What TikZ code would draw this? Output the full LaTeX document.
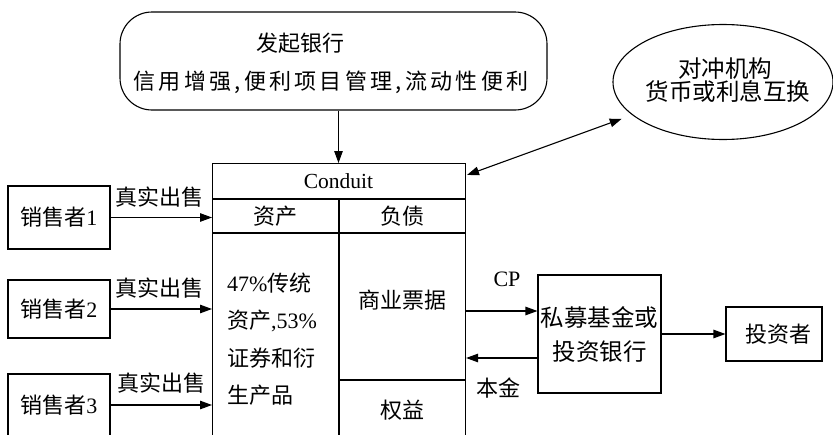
\documentclass[tikz,border=0pt]{standalone}
\usepackage{fontspec}
\setmainfont{Liberation Serif}
\newfontfamily\cjk{Noto Sans CJK SC}
\newfontfamily\cjkw[LetterSpace=15]{Noto Sans CJK SC}
\usetikzlibrary{arrows.meta,shapes.geometric,calc}
\tikzset{
  base/.style={font=\fontsize{22}{25}\selectfont, inner sep=0pt},
  box/.style={base, draw, line width=1.1pt},
  arr/.style={line width=1.1pt, -{Triangle[length=12pt,width=8.5pt]}},
  arrtwo/.style={line width=1.1pt, {Triangle[length=12pt,width=8.5pt]}-{Triangle[length=12pt,width=8.5pt]}},
  lbl/.style={base},
}
\begin{document}
\begin{tikzpicture}[x=1pt,y=-1pt]
\useasboundingbox (0,0) rectangle (833,434);
\clip (0,0) rectangle (833,434);
\fill[white] (0,0) rectangle (833,434);

% originating bank
\node[box, rounded corners=32pt, minimum width=427pt, minimum height=98pt] (bank) at (333.5,61) {};
\node[lbl] (bankA) at (300,43) {\cjk 发起银行};
\node[lbl] (bankB) at (331,82) {\cjkw 信用增强,便利项目管理,流动性便利};

% hedge counterparty
\node[box, ellipse, minimum width=220pt, minimum height=115pt] (hedge) at (723,82) {};
\node[lbl, font=\fontsize{23.5}{22}\selectfont] (hedgeA) at (725,69) {\cjk 对冲机构};
\node[lbl, font=\fontsize{23.5}{22}\selectfont] (hedgeB) at (728,91) {\cjk 货币或利息互换};

% conduit
\node[box, anchor=north west, minimum width=253pt, minimum height=285pt] (conduit) at (212,163) {};
\draw[line width=1.1pt] (212,199) -- (465,199);
\draw[line width=1.1pt] (212,233) -- (465,233);
\draw[line width=1.1pt] (339,199) -- (339,440);
\draw[line width=1.1pt] (339,380) -- (465,380);
\node[lbl, font=\fontsize{21.5}{25}\selectfont] (title) at (338.5,181) {Conduit};
\node[lbl] (assets) at (275.5,216) {\cjk 资产};
\node[lbl] (liab) at (402,216) {\cjk 负债};
\node[lbl, anchor=west, align=left, font=\fontsize{22}{37.5}\selectfont] (assettext) at (227,339)
  {47\%{\cjk 传统}\\{\cjk 资产},53\%\\{\cjk 证券和衍}\\{\cjk 生产品}};
\node[lbl] (cp) at (402,300) {\cjk 商业票据};
\node[lbl] (equity) at (402,410) {\cjk 权益};

% sellers
\node[box, minimum width=102pt, minimum height=63pt] (s1) at (59,217.5) {{\cjk 销售者}1};
\node[box, minimum width=102pt, minimum height=58pt] (s2) at (59,309) {{\cjk 销售者}2};
\node[box, minimum width=102pt, minimum height=62pt] (s3) at (59,405) {{\cjk 销售者}3};
\draw[arr] (s1.east) -- (s1.east -| conduit.west);
\draw[arr] (s2.east) -- (s2.east -| conduit.west);
\draw[arr] (s3.east) -- (s3.east -| conduit.west);
\node[lbl] (l1) at (159,197) {\cjk 真实出售};
\node[lbl] (l2) at (159,288) {\cjk 真实出售};
\node[lbl] (l3) at (161,383) {\cjk 真实出售};

% bank -> conduit
\draw[arr] (title.north |- bank.south) -- (title.north |- conduit.north);

% conduit <-> hedge
\coordinate (cne) at (467,175);
\draw[arrtwo, shorten >=11pt] (cne) -- (hedge);

% fund and investor
\node[box, minimum width=123pt, minimum height=118pt, align=center, font=\fontsize{23.5}{34}\selectfont] (fund) at (599.5,334) {\cjk 私募基金或\\\cjk 投资银行};
\node[box, minimum width=96pt, minimum height=54pt] (inv) at (774,334) {\cjk\hspace*{8pt}投资者};
\coordinate (cpy) at (0,311);
\coordinate (pry) at (0,358);
\draw[arr] (conduit.east |- cpy) -- (fund.west |- cpy);
\draw[arr] (fund.west |- pry) -- (conduit.east |- pry);
\node[lbl] (cplbl) at (507,279) {CP};
\node[lbl] (prlbl) at (498,388) {\cjk 本金};
\draw[arr] (fund.east) -- (inv.west);
\end{tikzpicture}
\end{document}
